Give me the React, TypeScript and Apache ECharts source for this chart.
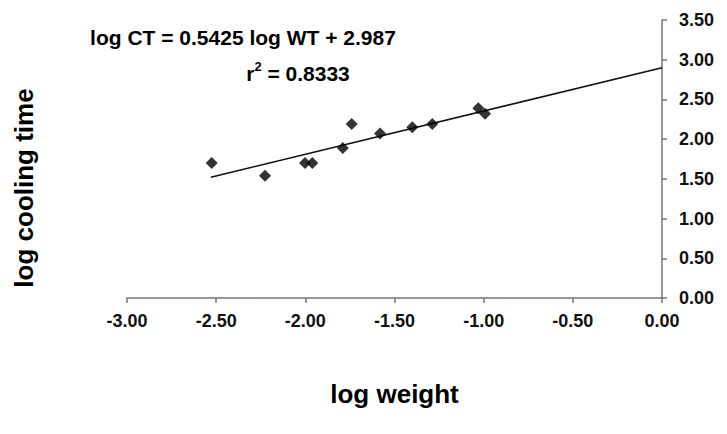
import React, { useEffect, useRef } from "react";
import * as echarts from "echarts";

const logWeight = [-2.525, -2.226, -2.002, -1.961, -1.79, -1.74, -1.581, -1.4, -1.288, -1.03, -0.992];
const logCoolingTime = [1.7, 1.54, 1.7, 1.7, 1.89, 2.19, 2.07, 2.15, 2.19, 2.39, 2.32];
const fitX = [-2.53, 0];
const fitY = [1.52, 2.9];
const xTicks = [-3, -2.5, -2, -1.5, -1, -0.5, 0];
const yTicks = [0, 0.5, 1, 1.5, 2, 2.5, 3, 3.5];

const FONT = "'Liberation Sans', Arial, Helvetica, sans-serif";

export default function App() {
  const ref = useRef<HTMLDivElement>(null);
  useEffect(() => {
    if (!ref.current) return;
    const chart = echarts.init(ref.current, null, { renderer: "svg" });
    const axisColor = "#777777";
    chart.setOption({
      animation: false,
      backgroundColor: "#ffffff",
      grid: { left: 127, right: 65, top: 20, bottom: 136, containLabel: false },
      xAxis: {
        type: "value",
        min: xTicks[0],
        max: xTicks[xTicks.length - 1],
        interval: 0.5,
        position: "bottom",
        axisLine: { onZero: false, lineStyle: { color: axisColor, width: 1.5 } },
        axisTick: { show: true, length: 5, lineStyle: { color: axisColor, width: 1.5 } },
        splitLine: { show: false },
        axisLabel: {
          formatter: (v: number) => v.toFixed(2),
          color: "#111",
          fontFamily: FONT,
          fontWeight: "bold",
          fontSize: 18,
          margin: 14,
        },
        name: "log weight",
        nameLocation: "middle",
        nameGap: 83,
        nameTextStyle: { color: "#000", fontFamily: FONT, fontWeight: "bold", fontSize: 26 },
      },
      yAxis: {
        type: "value",
        min: yTicks[0],
        max: yTicks[yTicks.length - 1],
        interval: 0.5,
        position: "right",
        axisLine: { show: true, onZero: false, lineStyle: { color: axisColor, width: 1.5 } },
        axisTick: { show: true, inside: false, length: 5, lineStyle: { color: axisColor, width: 1.5 } },
        splitLine: { show: false },
        axisLabel: {
          formatter: (v: number) => v.toFixed(2),
          color: "#111",
          fontFamily: FONT,
          fontWeight: "bold",
          fontSize: 18,
          margin: 17,
        },
      },
      graphic: [
        {
          type: "text",
          x: 243,
          y: 37,
          style: {
            text: "log CT = 0.5425 log WT + 2.987",
            fill: "#000",
            font: `bold 21px ${FONT}`,
            align: "center",
            verticalAlign: "middle",
          },
        },
        {
          type: "text",
          x: 298,
          y: 72,
          style: {
            text: "{b|r}{s|2}{b| = 0.8333}",
            align: "center",
            verticalAlign: "middle",
            rich: {
              b: { fill: "#000", font: `bold 21px ${FONT}`, lineHeight: 24, verticalAlign: "bottom" },
              s: { fill: "#000", font: `bold 13px ${FONT}`, lineHeight: 24, verticalAlign: "top" },
            },
          },
        },
        {
          type: "text",
          x: 24,
          y: 188,
          rotation: Math.PI / 2,
          style: {
            text: "log cooling time",
            fill: "#000",
            font: `bold 26px ${FONT}`,
            align: "center",
            verticalAlign: "middle",
          },
        },
      ],
      series: [
        {
          type: "line",
          data: fitX.map((x, i) => [x, fitY[i]]),
          showSymbol: false,
          symbol: "none",
          lineStyle: { color: "#111", width: 1.6 },
          silent: true,
          z: 2,
        },
        {
          type: "scatter",
          data: logWeight.map((x, i) => [x, logCoolingTime[i]]),
          symbol: "diamond",
          symbolSize: 12,
          itemStyle: { color: "#000" },
          z: 3,
        },
      ],
    });
    return () => chart.dispose();
  }, []);
  return <div ref={ref} style={{ width: 727, height: 434, position: "absolute", left: 0, top: 0 }} />;
}
